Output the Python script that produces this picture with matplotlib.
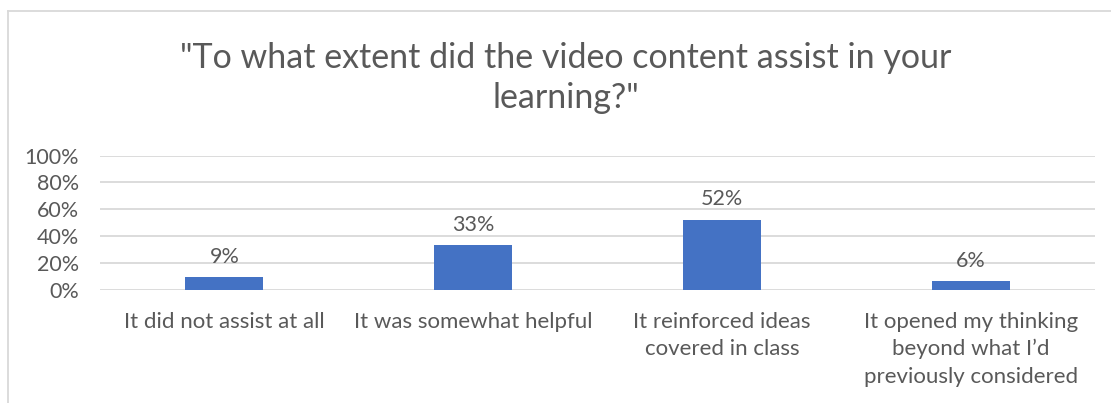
import matplotlib
matplotlib.use("Agg")
import matplotlib.pyplot as plt
from matplotlib.lines import Line2D

categories = [
    "It did not assist at all",
    "It was somewhat helpful",
    "It reinforced ideas\ncovered in class",
    "It opened my thinking\nbeyond what I\u2019d\npreviously considered",
]
values = [9, 33, 52, 6]
yticks = [0, 20, 40, 60, 80, 100]
title = "\"To what extent did the video content assist in your\nlearning?\""

W, H = 1111, 403
plt.rcParams["font.family"] = ["Lato", "DejaVu Sans"]
text_color = "#595959"
grid_color = "#D9D9D9"
bar_color = "#4472C4"

fig = plt.figure(figsize=(W / 100, H / 100), dpi=100)

# chart border (left and top edges visible)
fig.add_artist(Line2D([8 / W, 8 / W], [0, 1 - 11 / H], color=grid_color, lw=1.3,
                      transform=fig.transFigure))
fig.add_artist(Line2D([8 / W, 1], [1 - 11 / H, 1 - 11 / H], color=grid_color, lw=1.3,
                      transform=fig.transFigure))

ax_left, ax_right = 100, 1095
ax_top, ax_bottom = 155.5, 289.5
ax = fig.add_axes([ax_left / W, 1 - ax_bottom / H,
                   (ax_right - ax_left) / W, (ax_bottom - ax_top) / H])

x = list(range(len(categories)))
bars = ax.bar(x, values, width=0.313, color=bar_color, zorder=3)
ax.set_xlim(-0.5, len(categories) - 0.5)
ax.set_ylim(0, 100)
ax.set_yticks(yticks)
ax.set_yticklabels([f"{v}%" for v in yticks], color=text_color, fontsize=15.5)
ax.yaxis.grid(True, color=grid_color, lw=1.3, zorder=0)
ax.tick_params(axis="y", length=0, pad=15)
ax.tick_params(axis="x", length=0, pad=16)
ax.set_xticks(x)
ax.set_xticklabels(categories, color=text_color, fontsize=16, linespacing=1.45, va="top")
for s in ax.spines.values():
    s.set_visible(False)
ax.set_facecolor("none")

for xi, v in zip(x, values):
    ax.annotate(f"{v}%", (xi, v), xytext=(0, 7.5), textcoords="offset points",
                ha="center", va="bottom", color=text_color, fontsize=15.5)

fig.text(566 / W, 1 - 78 / H, title, ha="center", va="center", fontsize=24.5,
         color=text_color, linespacing=1.3)

fig.savefig("out.png", dpi=100, facecolor="white")
